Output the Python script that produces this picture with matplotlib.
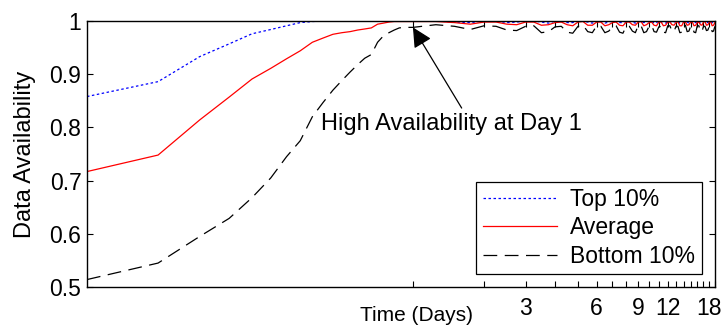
import numpy as np
import matplotlib
matplotlib.use('Agg')
import matplotlib.pyplot as plt
from matplotlib.ticker import FixedLocator, FixedFormatter, NullLocator

plt.rcParams['font.family'] = ['Liberation Sans', 'DejaVu Sans']

# time axis in hours: hourly during the first day, then every 6 hours
hours = list(range(1, 25)) + list(range(30, 457, 6))

# first day, hourly
top_day1 = [0.858, 0.886, 0.933, 0.957, 0.976, 0.984, 0.991, 0.997,
            0.999, 1.0, 1.0, 1.0, 1.0, 1.0, 1.0, 1.0,
            1.0, 1.0, 1.0, 1.0, 1.0, 1.0, 1.0, 1.0]
avg_day1 = [0.717, 0.748, 0.814, 0.857, 0.891, 0.911, 0.929, 0.944,
            0.960, 0.968, 0.975, 0.978, 0.980, 0.983, 0.985, 0.987,
            0.994, 0.996, 0.998, 0.999, 0.999, 0.999, 0.999, 0.999]
bot_day1 = [0.514, 0.545, 0.595, 0.629, 0.668, 0.705, 0.745, 0.775,
            0.820, 0.847, 0.870, 0.888, 0.904, 0.918, 0.930, 0.937,
            0.960, 0.972, 0.978, 0.983, 0.987, 0.988, 0.988, 0.988]

# day 1 .. day 19, every 6 hours (one row per day)
top_later = [
    1.0, 0.998, 0.997, 1.0,
    1.0, 0.997, 0.998, 1.0,
    1.0, 0.998, 0.996, 1.0,
    1.0, 0.997, 0.997, 1.0,
    1.0, 0.998, 0.996, 1.0,
    1.0, 0.996, 0.998, 1.0,
    1.0, 0.997, 0.997, 1.0,
    1.0, 0.998, 0.996, 1.0,
    1.0, 0.997, 0.998, 1.0,
    1.0, 0.996, 0.997, 1.0,
    1.0, 0.998, 0.996, 1.0,
    1.0, 0.997, 0.998, 1.0,
    1.0, 0.996, 0.997, 1.0,
    1.0, 0.998, 0.996, 1.0,
    1.0, 0.997, 0.997, 1.0,
    1.0, 0.996, 0.998, 1.0,
    1.0, 0.998, 0.997, 1.0,
    1.0, 0.997, 0.996, 1.0,
]
avg_later = [
    0.999, 0.997, 0.994, 0.998,
    0.998, 0.994, 0.993, 0.998,
    0.998, 0.992, 0.993, 0.997,
    0.998, 0.993, 0.991, 0.998,
    0.999, 0.992, 0.992, 0.998,
    0.998, 0.991, 0.993, 0.997,
    0.998, 0.992, 0.991, 0.998,
    0.998, 0.993, 0.992, 0.998,
    0.999, 0.991, 0.993, 0.997,
    0.998, 0.992, 0.991, 0.998,
    0.998, 0.991, 0.992, 0.998,
    0.998, 0.993, 0.992, 0.997,
    0.999, 0.991, 0.991, 0.998,
    0.998, 0.992, 0.993, 0.998,
    0.998, 0.991, 0.992, 0.997,
    0.998, 0.993, 0.992, 0.998,
    0.999, 0.992, 0.993, 0.998,
    0.998, 0.991, 0.992, 0.997,
]
bot_later = [
    0.993, 0.990, 0.984, 0.991,
    0.990, 0.983, 0.982, 0.990,
    0.991, 0.978, 0.980, 0.989,
    0.990, 0.979, 0.977, 0.990,
    0.992, 0.980, 0.978, 0.991,
    0.990, 0.978, 0.981, 0.989,
    0.991, 0.979, 0.977, 0.990,
    0.990, 0.981, 0.978, 0.992,
    0.991, 0.978, 0.980, 0.990,
    0.992, 0.980, 0.979, 0.989,
    0.990, 0.979, 0.978, 0.991,
    0.991, 0.981, 0.980, 0.990,
    0.990, 0.978, 0.979, 0.992,
    0.992, 0.980, 0.981, 0.990,
    0.990, 0.979, 0.978, 0.991,
    0.991, 0.981, 0.980, 0.990,
    0.990, 0.982, 0.983, 0.991,
    0.991, 0.980, 0.981, 0.990,
]

top = top_day1 + top_later
avg = avg_day1 + avg_later
bot = bot_day1 + bot_later

days = np.array(hours) / 24.0

tick_days = list(range(1, 20))
tick_labels = ['' if d not in (3, 6, 9, 12, 18) else str(d) for d in tick_days]

fig = plt.figure(figsize=(7.28, 3.27), dpi=100)
ax = fig.add_axes([0.1195, 0.1223, 0.8625, 0.8135])

ax.plot(days, top, color='blue', lw=0.9, dashes=(2, 2), label='Top 10%')
ax.plot(days, avg, color='red', lw=0.9, label='Average')
ax.plot(days, bot, color='black', lw=0.9, dashes=(11, 6), label='Bottom 10%')

ax.set_xscale('log')
ax.set_xlim(1 / 24, 19)
ax.set_ylim(0.5, 1)
ax.xaxis.set_major_locator(FixedLocator(tick_days))
ax.xaxis.set_major_formatter(FixedFormatter(tick_labels))
ax.xaxis.set_minor_locator(NullLocator())
ax.set_yticks([0.5, 0.6, 0.7, 0.8, 0.9, 1.0])
ax.set_yticklabels(['0.5', '0.6', '0.7', '0.8', '0.9', '1'])

ax.tick_params(direction='in', length=4, width=0.8, top=True, right=True,
               labelsize=16.5)
ax.tick_params(axis='x', pad=7)
ax.tick_params(axis='y', pad=4)
for s in ax.spines.values():
    s.set_linewidth(1.0)

ax.set_ylabel('Data Availability', fontsize=17)
ax.yaxis.set_label_coords(-0.081, 0.5)
ax.set_xlabel('Time (Days)', fontsize=15)
ax.xaxis.set_label_coords(0.525, -0.072)

ax.annotate('High Availability at Day 1', xy=(1, 0.988), xytext=(1.46, 0.806),
            fontsize=17, ha='center', va='center',
            arrowprops=dict(arrowstyle='-|>', mutation_scale=30, color='black',
                            lw=0.9, shrinkA=2, shrinkB=0, relpos=(0.55, 1.0)))

leg = ax.legend(loc='lower right', fontsize=16.5, handlelength=3.2,
                fancybox=False, framealpha=1, edgecolor='black',
                borderaxespad=0.55, labelspacing=0.22, handletextpad=0.6,
                borderpad=0.3)
leg.get_frame().set_linewidth(0.9)

fig.savefig('out.png', dpi=100)
